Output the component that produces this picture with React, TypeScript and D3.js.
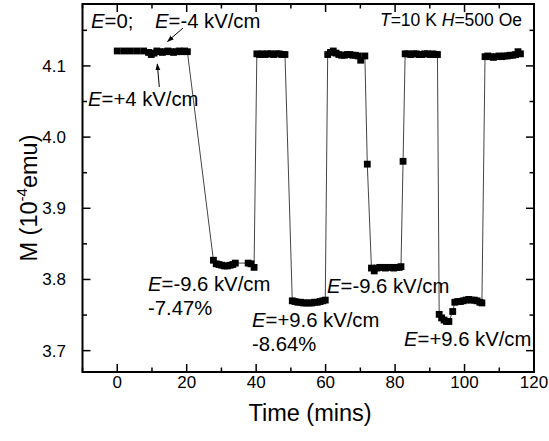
import React from "react";
import * as d3 from "d3";

const time: number[] = [
  0, 1.9, 3.8, 5.7, 7.6,
  9.0, 9.8, 10.6, 11.4, 12.2, 13.0, 13.8, 14.6, 15.4, 16.2, 17.0, 17.8, 18.6, 19.4, 20.2,
  27.7, 28.5, 29.3, 30.1, 30.9, 31.7, 32.5, 33.3, 34.0, 37.7, 38.5, 39.4,
  40.2, 41.0, 41.8, 42.6, 43.4, 44.2, 45.0, 45.8, 46.6, 47.4, 48.3,
  50.4, 51.2, 52.0, 52.8, 53.6, 54.4, 55.2, 56.0, 56.8, 57.6, 58.4, 59.2, 59.9,
  60.6, 61.4, 62.2, 63.0, 63.8, 64.6, 65.4, 66.2, 67.0, 67.8, 68.6, 69.4, 70.1, 71.3,
  72.0,
  73.2, 74.0, 74.8, 75.6, 76.4, 77.2, 78.0, 78.8, 79.6, 80.4, 81.2, 81.7,
  82.3,
  82.9, 83.7, 84.5, 85.3, 86.1, 86.9, 87.7, 88.5, 89.3, 90.1, 90.9, 91.6, 92.2,
  92.7, 93.4, 94.1, 94.8, 95.5, 96.6,
  97.2, 98.0, 98.8, 99.6, 100.4, 101.2, 102.0, 102.8, 103.6, 104.4, 105.0,
  105.9, 106.7, 107.5, 108.3, 109.1, 109.9, 110.7, 111.5, 112.3, 113.1, 113.9, 114.7, 115.4, 116.1,
];

const moment: number[] = [
  4.121, 4.121, 4.121, 4.121, 4.121,
  4.119, 4.116, 4.118, 4.121, 4.120, 4.119, 4.120, 4.121, 4.120, 4.119, 4.120, 4.121, 4.120, 4.121, 4.120,
  3.827, 3.822, 3.821, 3.820, 3.819, 3.819, 3.820, 3.821, 3.823, 3.823, 3.822, 3.817,
  4.117, 4.116, 4.117, 4.116, 4.117, 4.117, 4.116, 4.117, 4.117, 4.116, 4.116,
  3.770, 3.769, 3.768, 3.768, 3.767, 3.767, 3.767, 3.767, 3.768, 3.768, 3.769, 3.770, 3.771,
  4.116, 4.119, 4.121, 4.118, 4.116, 4.115, 4.115, 4.116, 4.116, 4.115, 4.115, 4.114, 4.108, 4.114,
  3.962,
  3.816, 3.812, 3.816, 3.817, 3.817, 3.816, 3.817, 3.817, 3.816, 3.817, 3.817, 3.818,
  3.966,
  4.117, 4.117, 4.116, 4.117, 4.117, 4.116, 4.116, 4.117, 4.117, 4.116, 4.117, 4.116, 4.116,
  3.751, 3.746, 3.743, 3.741, 3.741, 3.755,
  3.768, 3.769, 3.769, 3.770, 3.771, 3.772, 3.771, 3.771, 3.770, 3.768, 3.767,
  4.113, 4.114, 4.113, 4.112, 4.113, 4.114, 4.113, 4.114, 4.114, 4.115, 4.115, 4.116, 4.120, 4.117,
];

const xTicks: number[] = [0, 20, 40, 60, 80, 100, 120];
const xMinor: number[] = [-10, 10, 30, 50, 70, 90, 110];
const yTicks: number[] = [3.7, 3.8, 3.9, 4.0, 4.1];
const yMinor: number[] = [3.75, 3.85, 3.95, 4.05, 4.15];

const FONT = "'Liberation Sans', Arial, Helvetica, sans-serif";

export default function App() {
  const W = 549, H = 441;
  const L = 82.5, R = 534, T = 4, B = 372;
  const x = d3.scaleLinear().domain([-10, 120]).range([L, R]);
  const y = d3.scaleLinear().domain([3.67, 4.187]).range([B, T]);
  const pts = time.map((t, i) => [t, moment[i]] as [number, number]);
  const line = d3.line<[number, number]>().x(d => x(d[0])).y(d => y(d[1]));
  const ms = 6.8;
  const maj = 8, mnr = 4.5;

  return (
    <div style={{ position: "fixed", left: 0, top: 0 }}>
      <svg width={W} height={H} style={{ display: "block", background: "#fff" }} fontFamily={FONT}>
        <defs>
          <marker id="ah" viewBox="0 0 10 10" refX="9" refY="5" markerWidth="7" markerHeight="7" orient="auto-start-reverse" markerUnits="userSpaceOnUse">
            <path d="M0,1.5 L10,5 L0,8.5 Z" fill="#000" />
          </marker>
        </defs>
        <rect x={0} y={0} width={W} height={H} fill="#fff" />
        <path d={line(pts) || ""} fill="none" stroke="#444" strokeWidth={1} />
        {pts.map((p, i) => (
          <rect key={i} x={x(p[0]) - ms / 2} y={y(p[1]) - ms / 2} width={ms} height={ms} fill="#000" />
        ))}
        <rect x={L} y={T} width={R - L} height={B - T} fill="none" stroke="#000" strokeWidth={2} />
        {xTicks.map(t => (
          <g key={"xt" + t}>
            <line x1={x(t)} x2={x(t)} y1={B} y2={B - maj} stroke="#000" strokeWidth={1.5} />
            <line x1={x(t)} x2={x(t)} y1={T} y2={T + maj} stroke="#000" strokeWidth={1.5} />
            <text x={x(t)} y={388} textAnchor="middle" fontSize={17}>{t}</text>
          </g>
        ))}
        {xMinor.map(t => (
          <g key={"xm" + t}>
            <line x1={x(t)} x2={x(t)} y1={B} y2={B - mnr} stroke="#000" strokeWidth={1.5} />
            <line x1={x(t)} x2={x(t)} y1={T} y2={T + mnr} stroke="#000" strokeWidth={1.5} />
          </g>
        ))}
        {yTicks.map(v => (
          <g key={"yt" + v}>
            <line x1={L} x2={L + maj} y1={y(v)} y2={y(v)} stroke="#000" strokeWidth={1.5} />
            <line x1={R} x2={R - maj} y1={y(v)} y2={y(v)} stroke="#000" strokeWidth={1.5} />
            <text x={66} y={y(v) + 6} textAnchor="end" fontSize={17}>{v.toFixed(1)}</text>
          </g>
        ))}
        {yMinor.map(v => (
          <g key={"ym" + v}>
            <line x1={L} x2={L + mnr} y1={y(v)} y2={y(v)} stroke="#000" strokeWidth={1.5} />
            <line x1={R} x2={R - mnr} y1={y(v)} y2={y(v)} stroke="#000" strokeWidth={1.5} />
          </g>
        ))}
        <text x={310} y={421} textAnchor="middle" fontSize={23.5}>Time (mins)</text>
        <text transform="translate(37,198) rotate(-90)" textAnchor="middle" fontSize={23.5}>
          M (10<tspan fontSize={15} dy={-10}>-4</tspan><tspan dy={10}>emu)</tspan>
        </text>
        <g fontSize={20.3}>
          <text x={91} y={28}><tspan fontStyle="italic">E</tspan>=0;</text>
          <text x={155} y={28}><tspan fontStyle="italic">E</tspan>=-4 kV/cm</text>
          <text x={88} y={106}><tspan fontStyle="italic">E</tspan>=+4 kV/cm</text>
          <text x={148} y={291}><tspan fontStyle="italic">E</tspan>=-9.6 kV/cm</text>
          <text x={148} y={315}>-7.47%</text>
          <text x={252} y={327}><tspan fontStyle="italic">E</tspan>=+9.6 kV/cm</text>
          <text x={252} y={351}>-8.64%</text>
          <text x={327} y={293}><tspan fontStyle="italic">E</tspan>=-9.6 kV/cm</text>
          <text x={404} y={346}><tspan fontStyle="italic">E</tspan>=+9.6 kV/cm</text>
        </g>
        <text x={522} y={26} textAnchor="end" fontSize={17.5}>
          <tspan fontStyle="italic">T</tspan>=10 K <tspan fontStyle="italic">H</tspan>=500 Oe
        </text>
        <line x1={183} y1={28} x2={167.5} y2={41.5} stroke="#000" strokeWidth={1} markerEnd="url(#ah)" />
        <line x1={159.3} y1={87} x2={157.3} y2={64} stroke="#000" strokeWidth={1} markerEnd="url(#ah)" />
      </svg>
    </div>
  );
}
